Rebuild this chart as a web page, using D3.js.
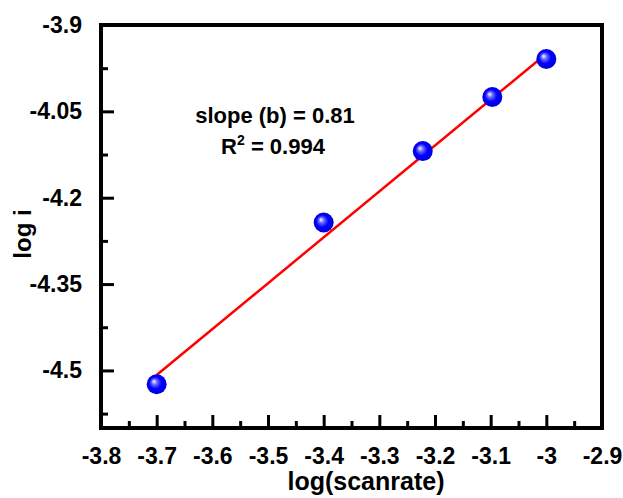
<!DOCTYPE html>
<html>
<head>
<meta charset="utf-8">
<script src="https://cdn.jsdelivr.net/npm/d3@7/dist/d3.min.js"></script>
<style>
html,body{margin:0;padding:0;background:#fff;}
text{font-family:"Liberation Sans",Arial,sans-serif;font-weight:bold;fill:#000;}
</style>
</head>
<body>
<svg id="chart" width="623" height="498"></svg>
<script>
const logScanrate = [-3.7, -3.4, -3.222, -3.097, -3.0];
const logI = [-4.524, -4.243, -4.119, -4.025, -3.959];
const fitX = [-3.7, -3.0];
const fitY = [-4.508, -3.950];
const xTicks = [-3.8, -3.7, -3.6, -3.5, -3.4, -3.3, -3.2, -3.1, -3.0, -2.9];
const xMinor = [-3.75, -3.65, -3.55, -3.45, -3.35, -3.25, -3.15, -3.05, -2.95];
const yTicks = [-3.9, -4.05, -4.2, -4.35, -4.5];
const yMinor = [-3.975, -4.125, -4.275, -4.425, -4.575];
const xDomain = [-3.8, -2.9];
const yDomain = [-4.6, -3.9];

const svg = d3.select("#chart");
const L = 101, R = 602, T = 25, B = 428;
const x = d3.scaleLinear().domain(xDomain).range([L, R]);
const y = d3.scaleLinear().domain(yDomain).range([B, T]);

const defs = svg.append("defs");
const grad = defs.append("radialGradient").attr("id", "ball")
  .attr("cx", "50%").attr("cy", "50%").attr("r", "55%")
  .attr("fx", "35%").attr("fy", "35%");
grad.append("stop").attr("offset", "0%").attr("stop-color", "#ffffff");
grad.append("stop").attr("offset", "25%").attr("stop-color", "#6a6aff");
grad.append("stop").attr("offset", "55%").attr("stop-color", "#0000ff");
grad.append("stop").attr("offset", "100%").attr("stop-color", "#0000d8");

// axes (ticks inward)
const fmt = d => String(+d.toFixed(2));
const xAxis = d3.axisBottom(x).tickValues(xTicks).tickSize(-13).tickPadding(20).tickFormat(fmt);
const gx = svg.append("g").attr("transform", `translate(0,${B})`).call(xAxis);
gx.selectAll(".tick text").style("font-size", "23px").attr("dy", "0.71em");
const xMin = d3.axisBottom(x).tickValues(xMinor).tickSize(-7).tickFormat("");
svg.append("g").attr("transform", `translate(0,${B})`).call(xMin);

const yAxis = d3.axisLeft(y).tickValues(yTicks).tickSize(-13).tickPadding(19).tickFormat(fmt);
const gy = svg.append("g").attr("transform", `translate(${L},0)`).call(yAxis);
gy.selectAll(".tick text").style("font-size", "23px");
const yMin = d3.axisLeft(y).tickValues(yMinor).tickSize(-7).tickFormat("");
svg.append("g").attr("transform", `translate(${L},0)`).call(yMin);

svg.selectAll(".domain").remove();
svg.selectAll(".tick line").attr("stroke", "#000").attr("stroke-width", 3);

// frame
svg.append("rect").attr("x", L).attr("y", T).attr("width", R - L).attr("height", B - T)
  .attr("fill", "none").attr("stroke", "#000").attr("stroke-width", 4);

// fit line
svg.append("line")
  .attr("x1", x(fitX[0])).attr("y1", y(fitY[0]))
  .attr("x2", x(fitX[1])).attr("y2", y(fitY[1]))
  .attr("stroke", "#ff0000").attr("stroke-width", 2.5);

// points
svg.selectAll("circle.pt").data(logScanrate.map((d, i) => [d, logI[i]]))
  .enter().append("circle").attr("class", "pt")
  .attr("cx", d => x(d[0])).attr("cy", d => y(d[1])).attr("r", 10)
  .attr("fill", "url(#ball)");

// annotation
svg.append("text").attr("x", 275).attr("y", 123).attr("text-anchor", "middle")
  .style("font-size", "22px").text("slope (b) = 0.81");
const r2 = svg.append("text").attr("x", 273).attr("y", 154).attr("text-anchor", "middle")
  .style("font-size", "22px");
r2.append("tspan").text("R");
r2.append("tspan").attr("dy", -9).style("font-size", "14px").text("2");
r2.append("tspan").attr("dy", 9).text(" = 0.994");

// axis titles
svg.append("text").attr("x", 366).attr("y", 490).attr("text-anchor", "middle")
  .style("font-size", "25px").text("log(scanrate)");
svg.append("text").attr("transform", "translate(31,234) rotate(-90)").attr("text-anchor", "middle")
  .style("font-size", "24px").text("log i");
</script>
</body>
</html>
